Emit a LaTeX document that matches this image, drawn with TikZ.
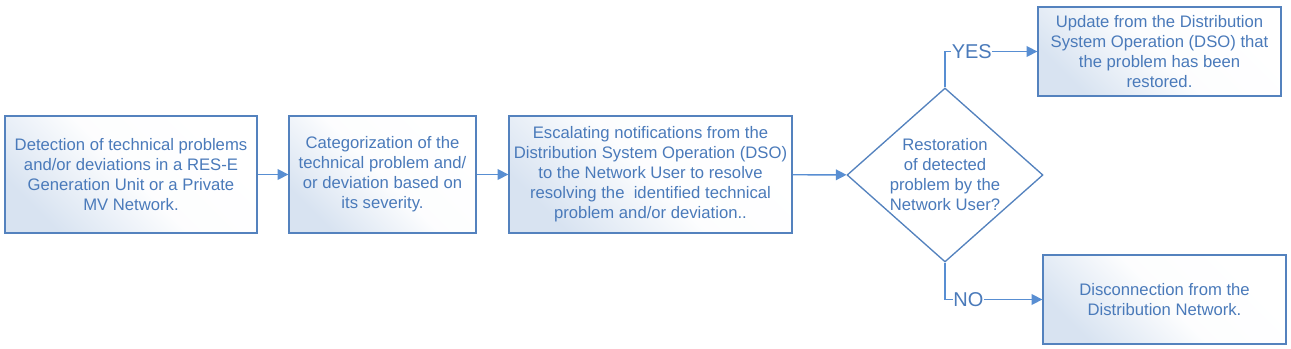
\documentclass[tikz,border=0pt]{standalone}
\usepackage{fontspec}
\setmainfont{Liberation Sans}
\usetikzlibrary{arrows.meta, positioning, shapes.geometric}
\definecolor{flowblue}{RGB}{84,130,190}
\definecolor{flowarrowc}{RGB}{88,142,210}
\definecolor{flowtext}{RGB}{74,122,186}
\definecolor{flowfill}{RGB}{216,227,241}
\tikzset{
  flowbox/.style={draw=flowblue, line width=1pt, top color=flowfill, bottom color=white,
    middle color=white!94!flowfill, shading angle=135, text=flowtext, align=center, inner sep=2pt,
    font=\fontsize{12.5}{15}\selectfont},
  flowdec/.style={diamond, draw=flowblue, line width=1pt, fill=white, text=flowtext,
    align=center, inner sep=0pt, aspect=1.13, minimum width=147pt, minimum height=130.5pt,
    font=\fontsize{12.5}{15}\selectfont},
  flowarrow/.style={draw=flowarrowc, line width=1.1pt, -{Triangle[length=8pt, width=8pt]}},
  flowlabel/.style={fill=white, text=flowtext, inner sep=0.5pt, font=\fontsize{15}{16}\selectfont}
}
\begin{document}
\begin{tikzpicture}[x=0.75pt, y=-0.75pt]
    \useasboundingbox (0,0) rectangle (1291,349);

    % main line of steps
    \node[flowbox, minimum width=189pt, minimum height=87.75pt] (detect) at (131,174.5)
      {Detection of technical problems\\and/or deviations in a RES-E\\Generation Unit or a Private\\MV Network.};
    \node[flowbox, minimum width=140.25pt, minimum height=87.75pt] (categ) at (382.5,174.5)
      {Categorization of the\\technical problem and/\\or deviation based on\\its severity.};
    \node[flowbox, minimum width=212.25pt, minimum height=87.75pt] (escal) at (650.5,174.5)
      {Escalating notifications from the\\Distribution System Operation (DSO)\\to the Network User to resolve\\resolving the\ \ identified technical\\problem and/or deviation..};
    \node[flowdec] (restore) at (945,175)
      {Restoration\\of detected\\problem by the\\Network User?};

    % outcomes
    \node[flowbox, minimum width=182.25pt, minimum height=66.75pt] (update) at (1159.5,51.5)
      {Update from the Distribution\\System Operation (DSO) that\\the problem has been\\restored.};
    \node[flowbox, minimum width=182.25pt, minimum height=66.75pt] (disconn) at (1164.5,299.5)
      {Disconnection from the\\Distribution Network.};

    \draw[flowarrow] (detect) -- (categ);
    \draw[flowarrow] (categ) -- (escal);
    \draw[flowarrow] (escal) -- (restore);
    \draw[flowarrow] (restore.north) |- node[flowlabel, pos=0.645] {YES} (update.west);
    \draw[flowarrow] (restore.south) |- node[flowlabel, pos=0.62] {NO} (disconn.west);
\end{tikzpicture}
\end{document}
